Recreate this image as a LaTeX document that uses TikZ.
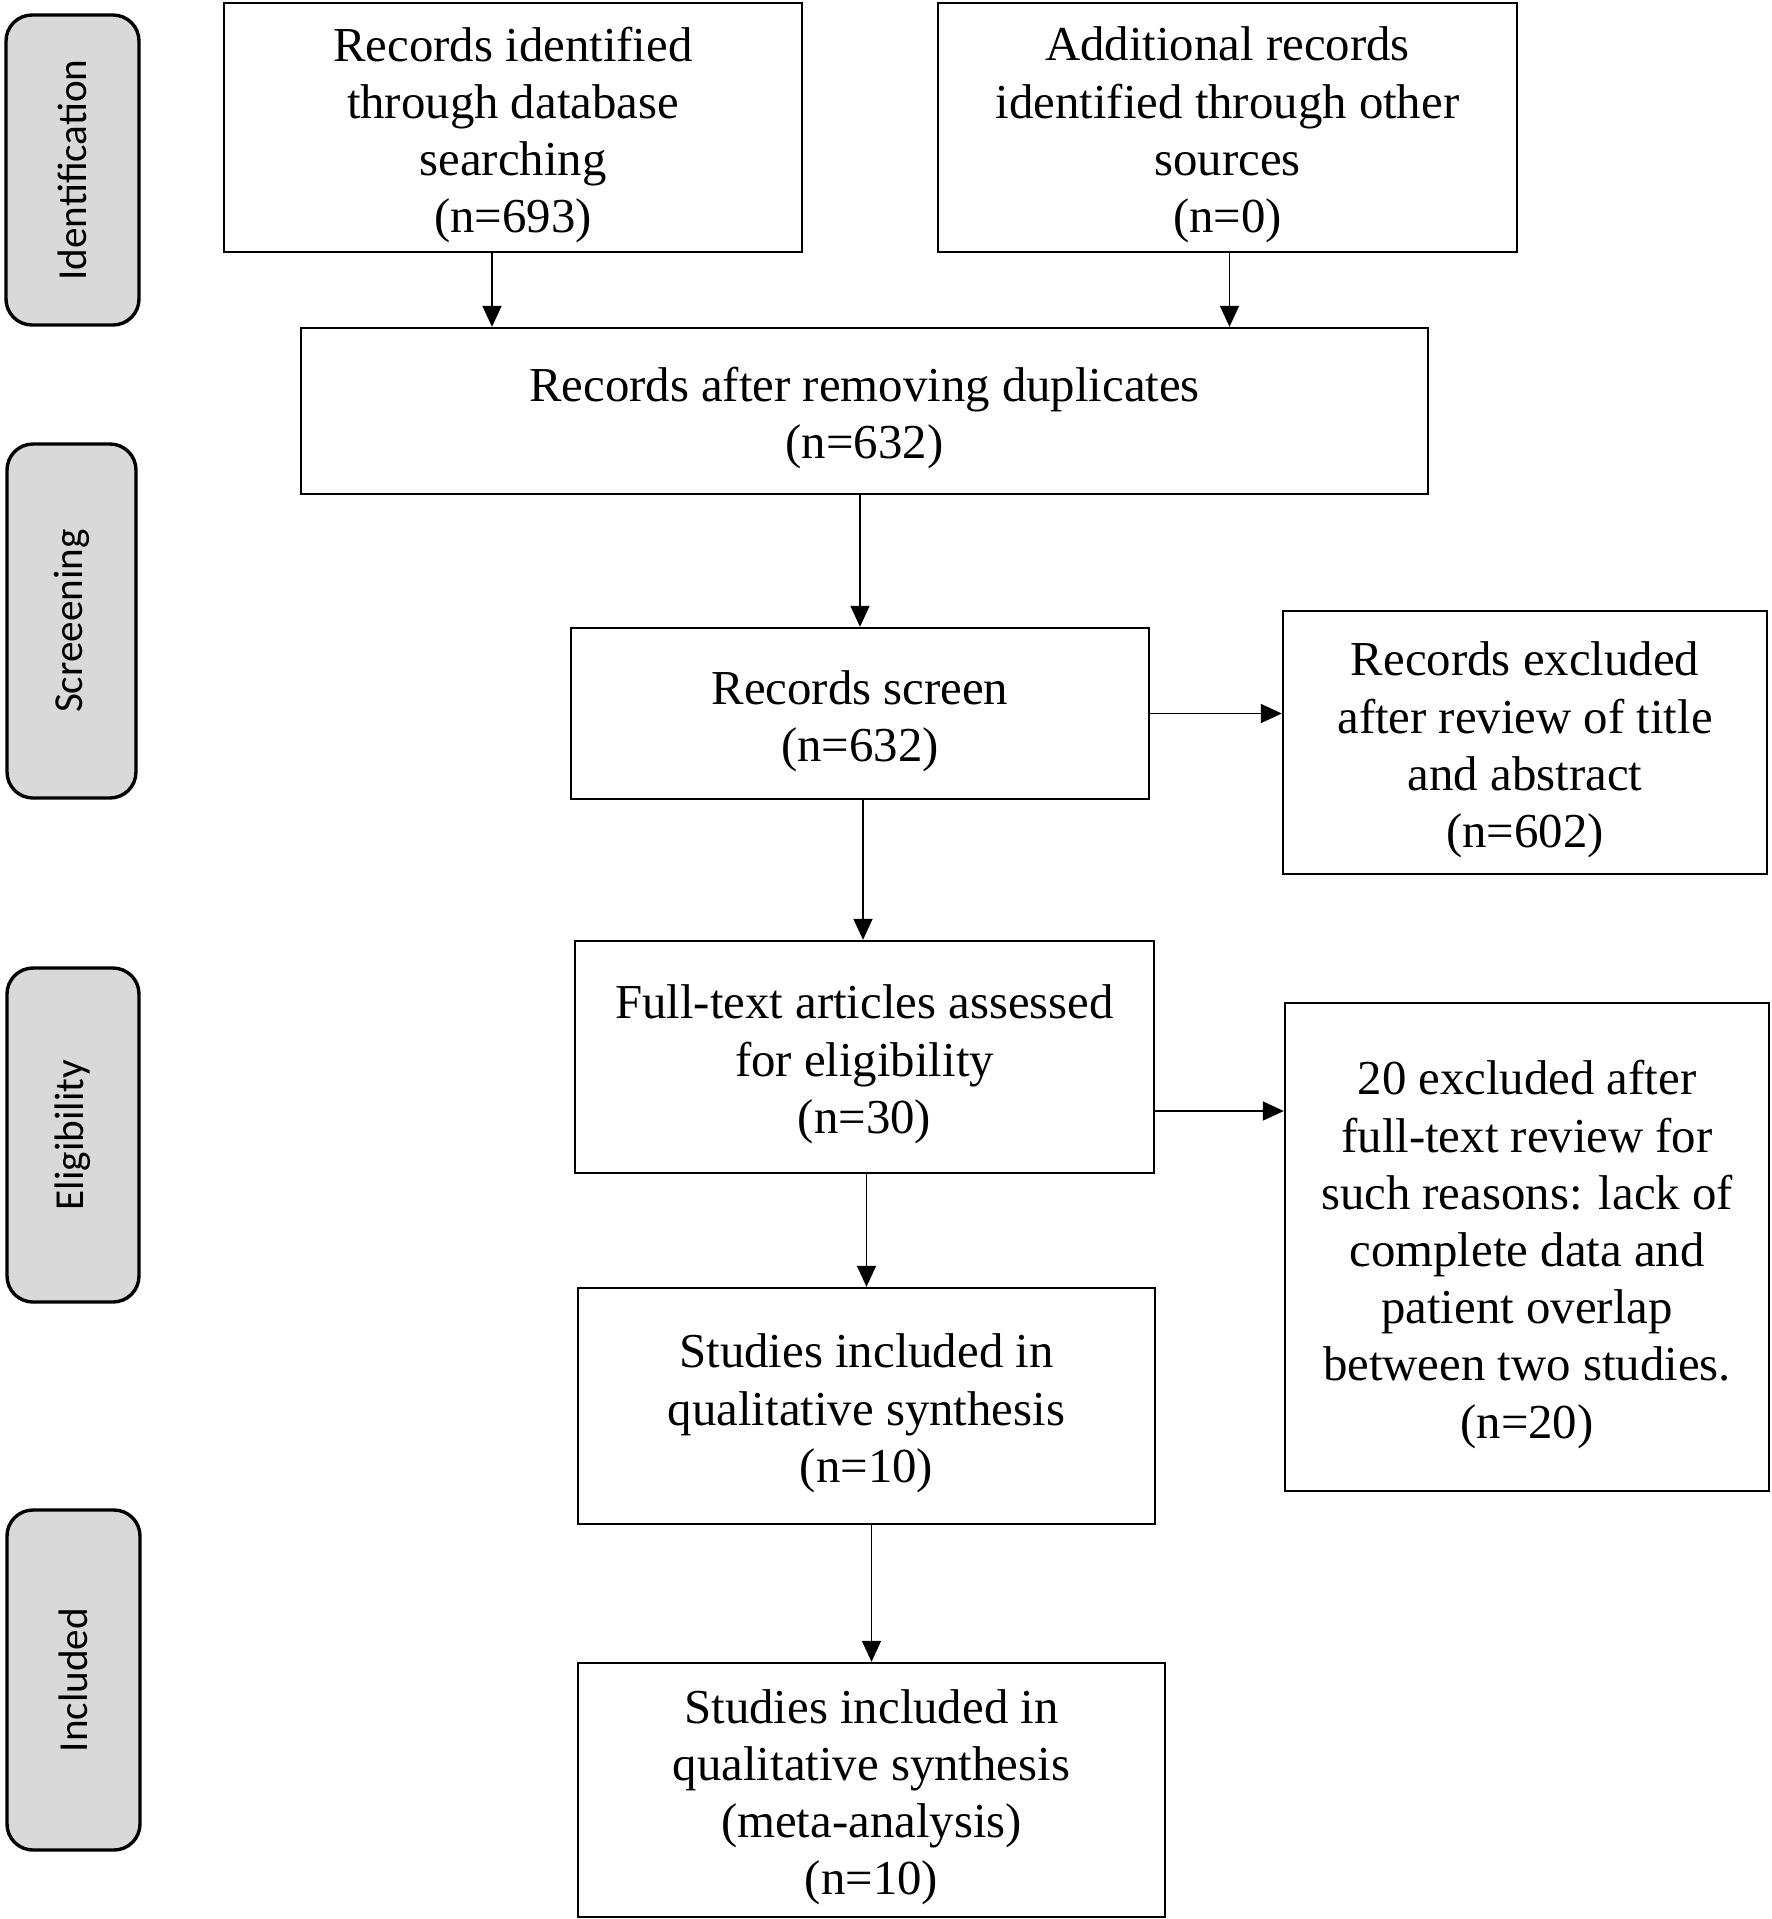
\documentclass[tikz,border=0pt]{standalone}
\usepackage{fontspec}
\setmainfont{Liberation Serif}
\newfontfamily\labfont{Carlito}
\usetikzlibrary{arrows.meta}
\definecolor{stagegray}{HTML}{D9D9D9}
\tikzset{
  box/.style={draw, line width=1.2pt, fill=white, inner sep=0pt},
  boxtext/.style={align=center, inner sep=0pt, yshift=-3.7pt,
    font=\fontsize{24.4pt}{28.6pt}\selectfont},
  stage/.style={draw, line width=1.7pt, fill=stagegray, rounded corners=13pt,
    rotate=90, inner sep=0pt, font=\labfont\fontsize{20.6pt}{24pt}\selectfont},
  arr/.style={line width=0.8pt, -{Triangle[length=10.5pt,width=9.5pt]}}
}
\begin{document}
\begin{tikzpicture}[x=0.5pt,y=-0.5pt]
\useasboundingbox (0,0) rectangle (1772,1919);
% stage labels
\node[stage, minimum width=155pt, minimum height=66.5pt] (sid) at (72.5,170) {Identification};
\node[stage, minimum width=177pt, minimum height=64.5pt] (ssc) at (71.5,621) {Screeening};
\node[stage, minimum width=167pt, minimum height=66pt] (sel) at (73,1135) {Eligibility};
\node[stage, minimum width=170pt, minimum height=66.5pt] (sin) at (73.5,1680) {Included};
% boxes
\node[box, minimum width=289pt, minimum height=124.5pt] (b1) at (513,127.5) {};
\node[boxtext] (t1) at (b1.center) {Records identified\\through database\\searching\\(n=693)};
\node[box, minimum width=289.5pt, minimum height=124.5pt] (b2) at (1227.5,127.5) {};
\node[boxtext] (t2) at (b2.center) {Additional records\\identified through other\\sources\\(n=0)};
\node[box, minimum width=563.5pt, minimum height=83pt] (b3) at (864.5,411) {};
\node[boxtext] (t3) at (b3.center) {Records after removing duplicates\\(n=632)};
\node[box, minimum width=289pt, minimum height=85.5pt] (b4) at (860,713.5) {};
\node[boxtext] (t4) at (b4.center) {Records screen\\(n=632)};
\node[box, minimum width=242pt, minimum height=131.5pt] (b5) at (1525,742.5) {};
\node[boxtext] (t5) at (b5.center) {Records excluded\\after review of title\\and abstract\\(n=602)};
\node[box, minimum width=289.5pt, minimum height=116pt] (b6) at (864.5,1057) {};
\node[boxtext] (t6) at (b6.center) {Full-text articles assessed\\for eligibility\\(n=30)};
\node[box, minimum width=242pt, minimum height=244pt] (b7) at (1527,1247) {};
\node[boxtext] (t7) at (b7.center) {20 excluded after\\full-text review for\\such reasons: lack of\\complete data and\\patient overlap\\between two studies.\\(n=20)};
\node[box, minimum width=288.5pt, minimum height=118pt] (b8) at (866.5,1406) {};
\node[boxtext] (t8) at (b8.center) {Studies included in\\qualitative synthesis\\(n=10)};
\node[box, minimum width=293.5pt, minimum height=127pt] (b9) at (871.5,1790) {};
\node[boxtext] (t9) at (b9.center) {Studies included in\\qualitative synthesis\\(meta-analysis)\\(n=10)};
% connectors
\draw[arr] ([xshift=-10.5pt]b1.south) -- ([xshift=-10.5pt]b1.south |- b3.north);
\draw[arr] ([xshift=1pt]b2.south) -- ([xshift=1pt]b2.south |- b3.north);
\draw[arr] (b4.north |- b3.south) -- (b4.north);
\draw[arr] ([xshift=1.5pt]b4.south) -- ([xshift=1.5pt]b4.south |- b6.north);
\draw[arr] (b4.east) -- (b4.east -| b5.west);
\draw[arr] ([yshift=-27pt]b6.east) -- ([yshift=-27pt]b6.east -| b7.west);
\draw[arr] (b8.north |- b6.south) -- (b8.north);
\draw[arr] (b9.north |- b8.south) -- (b9.north);
\end{tikzpicture}
\end{document}
